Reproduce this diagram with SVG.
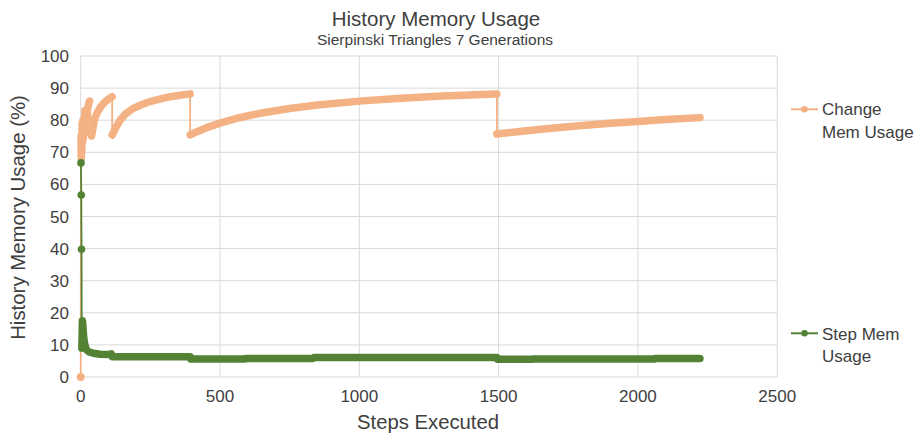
<svg xmlns="http://www.w3.org/2000/svg" width="921" height="436" viewBox="0 0 921 436">
<style>
.t{font-family:"Liberation Sans",Arial,sans-serif;fill:#404040}
.grid line{stroke:#d9d9d9;stroke-width:1}
.thin{fill:none;stroke-width:1.8;stroke-linejoin:round}
.thick{fill:none;stroke-width:7.5;stroke-linecap:round;stroke-linejoin:round}
.or{stroke:#f4b183}
.gr{stroke:#548235}
</style>
<rect width="921" height="436" fill="#ffffff"/>
<g id="grid" class="grid">
<line x1="80.7" y1="56" x2="777.2" y2="56"/>
<line x1="80.7" y1="88.1" x2="777.2" y2="88.1"/>
<line x1="80.7" y1="120.2" x2="777.2" y2="120.2"/>
<line x1="80.7" y1="152.3" x2="777.2" y2="152.3"/>
<line x1="80.7" y1="184.4" x2="777.2" y2="184.4"/>
<line x1="80.7" y1="216.5" x2="777.2" y2="216.5"/>
<line x1="80.7" y1="248.6" x2="777.2" y2="248.6"/>
<line x1="80.7" y1="280.7" x2="777.2" y2="280.7"/>
<line x1="80.7" y1="312.8" x2="777.2" y2="312.8"/>
<line x1="80.7" y1="344.9" x2="777.2" y2="344.9"/>
<line x1="80.7" y1="377" x2="777.2" y2="377"/>
<line x1="80.7" y1="56" x2="80.7" y2="377"/>
<line x1="220" y1="56" x2="220" y2="377"/>
<line x1="359.3" y1="56" x2="359.3" y2="377"/>
<line x1="498.6" y1="56" x2="498.6" y2="377"/>
<line x1="637.9" y1="56" x2="637.9" y2="377"/>
<line x1="777.2" y1="56" x2="777.2" y2="377"/>
</g>
<g id="titles">
<text class="t" x="436" y="26" font-size="20.5" text-anchor="middle">History Memory Usage</text>
<text class="t" x="435" y="45" font-size="15.5" text-anchor="middle">Sierpinski Triangles 7 Generations</text>
<text class="t" x="428" y="429" font-size="20.3" text-anchor="middle">Steps Executed</text>
<text class="t" transform="translate(25,217.5) rotate(-90)" font-size="20.4" text-anchor="middle">History Memory Usage (%)</text>
</g>
<g id="y-ticks" class="t" font-size="17" text-anchor="end">
<text x="69" y="62">100</text>
<text x="69" y="94.1">90</text>
<text x="69" y="126.2">80</text>
<text x="69" y="158.3">70</text>
<text x="69" y="190.4">60</text>
<text x="69" y="222.5">50</text>
<text x="69" y="254.6">40</text>
<text x="69" y="286.7">30</text>
<text x="69" y="318.8">20</text>
<text x="69" y="350.9">10</text>
<text x="69" y="383">0</text>
</g>
<g id="x-ticks" class="t" font-size="17" text-anchor="middle">
<text x="80.7" y="402">0</text>
<text x="220" y="402">500</text>
<text x="359.3" y="402">1000</text>
<text x="498.6" y="402">1500</text>
<text x="637.9" y="402">2000</text>
<text x="777.2" y="402">2500</text>
</g>
<g id="series-change">
<polyline class="thin or" points="80.7,377 81.0,136.3 81.3,158.7 81.5,139.5 81.8,152.3 82.1,123.4 82.4,142.7 82.6,129.8 82.9,120.2 83.2,139.5 83.8,123.4 84.3,129.8 84.9,110.6 85.4,133.0 86.3,120.2 87.4,110.6 88.5,104.2 89.6,101.0 91.5,136 94.63,118.92 97.41,112.18 100.2,107.68 102.98,103.99 105.77,101.26 108.56,99.01 112.18,96.77 112.18,134.97 115.52,128.22 119.7,120.84 125.27,114.1 133.35,108.32 142,104.47 150.06,101.58 158.7,99.34 166.78,97.41 178.2,95.48 190.17,93.88 190.17,134.97 197.7,131.44 206.05,127.9 219.98,123.09 240.32,117.47 261.76,112.95 289.62,108.45 317.48,105.02 359.26,101.13 401.04,98.28 442.83,96.09 496.87,93.91 496.87,134 526.4,130.7 554.25,127.97 582.11,125.53 609.96,123.35 637.82,121.39 665.68,119.59 699.94,117.63"/>
<polyline class="thick or" points="81.0,136.3 81.3,158.7 81.5,139.5 81.8,152.3 82.1,123.4 82.4,142.7 82.6,129.8 82.9,120.2 83.2,139.5 83.8,123.4 84.3,129.8 84.9,110.6 85.4,133.0 86.3,120.2 87.4,110.6 88.5,104.2 89.6,101.0"/>
<polyline class="thick or" points="91.5,136 94.63,118.92 97.41,112.18 100.2,107.68 102.98,103.99 105.77,101.26 108.56,99.01 112.18,96.77"/>
<polyline class="thick or" points="112.18,134.97 115.52,128.22 119.7,120.84 125.27,114.1 133.35,108.32 142,104.47 150.06,101.58 158.7,99.34 166.78,97.41 178.2,95.48 190.17,93.88"/>
<polyline class="thick or" points="190.17,134.97 197.7,131.44 206.05,127.9 219.98,123.09 240.32,117.47 261.76,112.95 289.62,108.45 317.48,105.02 359.26,101.13 401.04,98.28 442.83,96.09 496.87,93.91"/>
<polyline class="thick or" points="496.87,134 526.4,130.7 554.25,127.97 582.11,125.53 609.96,123.35 637.82,121.39 665.68,119.59 699.94,117.63"/>
<circle cx="80.7" cy="377" r="4" fill="#f4b183"/>
</g>
<g id="series-step">
<polyline class="thin gr" points="80.98,162.9 81.26,195 81.54,249.2 81.81,348.1 82.09,338.5"/>
<polyline class="thick gr" points="81.81,348.1 82.09,338.5 82.37,320.8 82.65,322.4 82.93,327.2 83.49,335.3 84.04,340.1 84.88,344.9 86.27,349.4 89.06,352 93.24,353.2 100.2,354.2 108.56,354.5 111.34,353.9 112.18,356.8 190.17,356.8 190.73,359 245.05,359 245.6,358.4 313.3,358.4 313.9,357.4 496.87,357.4 497.4,359.3 532,359.3 532.5,359 654.5,359 655.1,358.4 699.94,358.4"/>
<circle cx="80.98" cy="162.9" r="3.8" fill="#548235"/>
<circle cx="81.26" cy="195" r="3.8" fill="#548235"/>
<circle cx="81.54" cy="249.2" r="3.8" fill="#548235"/>
</g>
<g id="legend-change">
<line x1="791" y1="109.3" x2="818" y2="109.3" stroke="#f4b183" stroke-width="2"/>
<circle cx="804.5" cy="109.3" r="3.3" fill="#f4b183"/>
<text class="t" x="822" y="115" font-size="17">Change</text>
<text class="t" x="822" y="138.3" font-size="17">Mem Usage</text>
</g>
<g id="legend-step">
<line x1="791" y1="333.3" x2="818" y2="333.3" stroke="#548235" stroke-width="2"/>
<circle cx="804.5" cy="333.3" r="3.3" fill="#548235"/>
<text class="t" x="822" y="339.5" font-size="17">Step Mem</text>
<text class="t" x="822" y="361.7" font-size="17">Usage</text>
</g>
</svg>
